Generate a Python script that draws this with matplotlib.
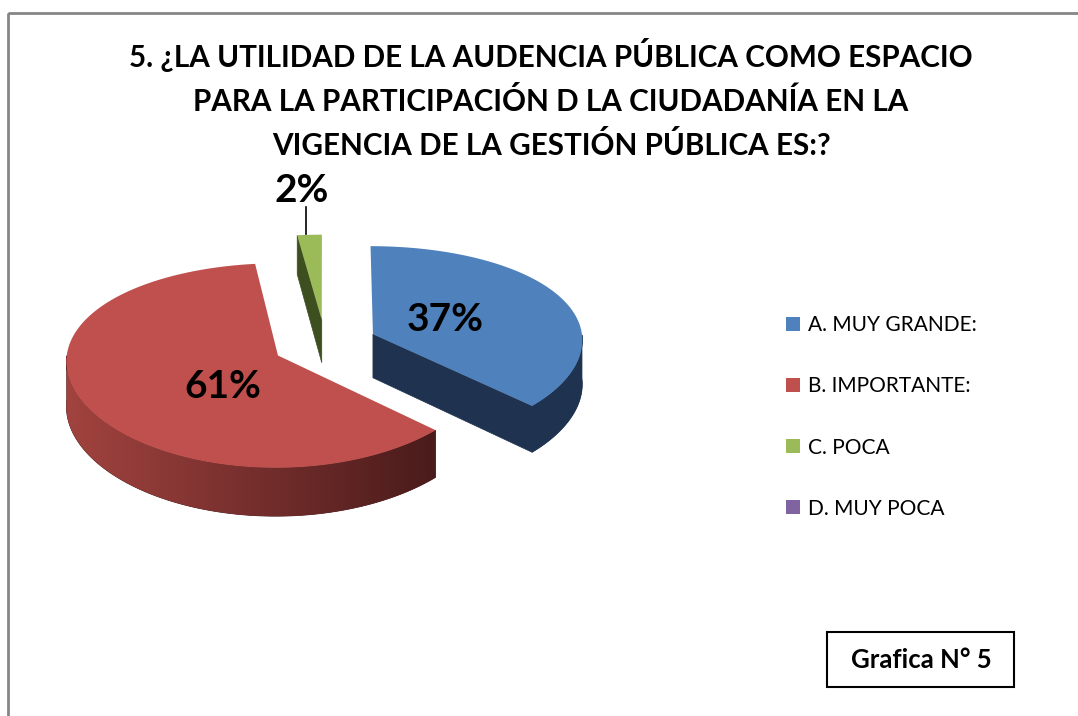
import numpy as np
import matplotlib.pyplot as plt
from matplotlib.patches import Polygon, Rectangle, Patch
from matplotlib.colors import to_rgb

# data
categories = ["A. MUY GRANDE:", "B. IMPORTANTE:", "C. POCA", "D. MUY POCA"]
values = [37, 61, 2, 0]
pct_labels = ["37%", "61%", "2%", ""]
top_colors = ["#4f81bd", "#c0504d", "#9bbb59", "#8064a2"]
side_light = ["#1f3350", "#a2433f", "#3d4e1f", "#4d3c62"]
side_dark = ["#1f3350", "#4a1b1b", "#3d4e1f", "#4d3c62"]
title = ("5. ¿LA UTILIDAD DE LA AUDENCIA PÚBLICA COMO ESPACIO\n"
         "PARA LA PARTICIPACIÓN D LA CIUDADANÍA EN LA\n"
         "VIGENCIA DE LA GESTIÓN PÚBLICA ES:?")
caption = "Grafica N° 5"

plt.rcParams["font.family"] = ["Lato", "DejaVu Sans"]

fig = plt.figure(figsize=(10.78, 7.16), dpi=100)
ax = fig.add_axes([0, 0, 1, 1])
ax.axis("off")

# pie geometry (pixel space), mild perspective: front a bit taller/wider
cx, cy = 325, 344
rx, ry = 210, 100
q = 10
explode = 0.25
# small hand nudges for the in-slice labels (Excel places them its own way)
label_nudge = {1: (17, 13)}


def proj(u, v, bottom=False):
    u = np.asarray(u, dtype=float)
    v = np.asarray(v, dtype=float)
    x = cx + rx * u * (1 - 0.05 * v)
    y = cy - ry * v + q * v ** 2
    if bottom:
        y = y + (44 - 4 * v)
    return x, y


fracs = np.array(values, dtype=float) / sum(values)
cum = np.concatenate([[0], np.cumsum(fracs)])
a_start = 90 - cum[:-1] * 360
a_end = 90 - cum[1:] * 360

slices = []
for i, f in enumerate(fracs):
    if f <= 0:
        continue
    mid = np.radians((a_start[i] + a_end[i]) / 2)
    ou, ov = explode * np.cos(mid), explode * np.sin(mid)
    slices.append((ov, i, mid, ou))

# back to front
for ov, i, mid, ou in sorted(slices, reverse=True):
    phi = np.radians(np.linspace(a_end[i], a_start[i], 300))
    ru, rv = ou + np.cos(phi), ov + np.sin(phi)

    # cut faces
    for ang, vis in ((a_end[i], np.cos(np.radians(a_end[i])) > 1e-6),
                     (a_start[i], np.cos(np.radians(a_start[i])) < -1e-6)):
        if not vis:
            continue
        pu = [ou, ou + np.cos(np.radians(ang))]
        pv = [ov, ov + np.sin(np.radians(ang))]
        xt, yt = proj(pu, pv)
        xb, yb = proj(pu, pv, bottom=True)
        pts = [(xt[0], yt[0]), (xt[1], yt[1]), (xb[1], yb[1]), (xb[0], yb[0])]
        ax.add_patch(Polygon(pts, closed=True, facecolor=side_dark[i],
                             edgecolor=side_dark[i], lw=0.5))

    # outer rim side, horizontal gradient clipped to the rim band
    xt, yt = proj(ru, rv)
    xb, yb = proj(ru, rv, bottom=True)
    vis = np.sin(phi) <= 0
    if vis.sum() > 1:
        band = np.vstack([np.column_stack([xt[vis], yt[vis]]),
                          np.column_stack([xb[vis], yb[vis]])[::-1]])
        rim = Polygon(band, closed=True, facecolor=side_dark[i],
                      edgecolor=side_dark[i], lw=0.5)
        ax.add_patch(rim)
        x0, x1 = band[:, 0].min(), band[:, 0].max()
        y0, y1 = band[:, 1].min(), band[:, 1].max()
        c0, c1 = np.array(to_rgb(side_light[i])), np.array(to_rgb(side_dark[i]))
        t = np.linspace(0, 1, 256)[None, :, None]
        grad = c0 + (c1 - c0) * t
        im = ax.imshow(grad, extent=(x0, x1, y1, y0), aspect="auto",
                       interpolation="bilinear", zorder=1)
        im.set_clip_path(rim)

    # top face
    xc, yc = proj(ou, ov)
    pts = [(float(xc), float(yc))] + list(zip(xt, yt))
    ax.add_patch(Polygon(pts, closed=True, facecolor=top_colors[i],
                         edgecolor="none", zorder=1.5))

    # label
    if fracs[i] > 0.05:
        lx, ly = proj(ou + 0.38 * np.cos(mid), ov + 0.38 * np.sin(mid))
        dx, dy = label_nudge.get(i, (0, 0))
        ax.text(lx + dx, ly + dy, pct_labels[i], ha="center", va="center",
                fontsize=28, fontweight="bold", color="black", zorder=3)
    else:
        px, py = proj(ou + np.cos(mid), ov + np.sin(mid))
        ax.plot([px - 4, px - 4], [py - 1, py - 28], color="black", lw=1.2)
        ax.text(px - 8, py - 44, pct_labels[i], ha="center", va="center",
                fontsize=28, fontweight="bold", color="black")

ax.set_xlim(0, 1078)
ax.set_ylim(716, 0)

# title
ax.text(551, 99, title, ha="center", va="center", fontsize=21.3,
        fontweight="bold", linespacing=1.62)

# legend
handles = [Patch(facecolor=c, edgecolor="none") for c in top_colors]
ax.legend(handles, categories, loc="center left",
          bbox_to_anchor=(786 / 1078, 1 - 417 / 716), frameon=False,
          fontsize=15, labelspacing=1.97, handlelength=0.68,
          handleheight=0.68, handletextpad=0.4, borderpad=0,
          borderaxespad=0)

# caption box
ax.add_patch(Rectangle((827, 632), 187, 55, fill=False, edgecolor="black",
                       lw=1.5))
ax.text(921, 660, caption, ha="center", va="center", fontsize=18.5,
        fontweight="bold")

# chart border
ax.add_patch(Rectangle((8, 12.5), 1200, 900, fill=False, edgecolor="#868686",
                       lw=2))

fig.savefig("out.png", dpi=100)
